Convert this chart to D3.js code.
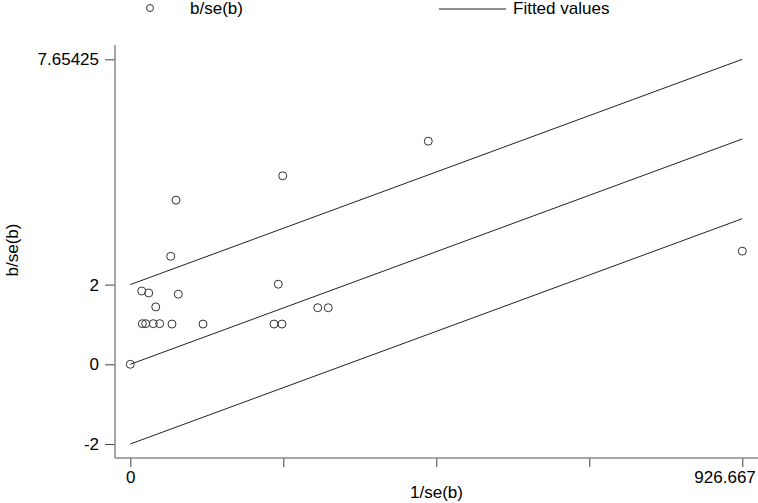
<!DOCTYPE html>
<html><head><meta charset="utf-8">
<script src="https://cdn.jsdelivr.net/npm/d3@7"></script>
<style>body{margin:0;background:#fff}svg{display:block}text{font-family:"Liberation Sans",Arial,sans-serif}</style>
</head><body>
<svg id="c" width="758" height="503"></svg>
<script>
const xVals = [0, 17.3, 18.2, 23.3, 27.9, 34.8, 38.5, 44.5, 61.2, 63.1, 69.2, 72.7, 110.1, 217.6, 224.1, 229.7, 230.8, 283.8, 299.8, 451.2, 926.667];
const yVals = [0, 1.84, 1.02, 1.02, 1.79, 1.02, 1.44, 1.02, 2.71, 1.01, 4.12, 1.76, 1.01, 1.01, 2.01, 1.01, 4.73, 1.42, 1.42, 5.60, 2.84];
const slope = 5.65425 / 926.667;
const offsets = [2, 0, -2];
const xTicks = [0, 231.667, 463.333, 695, 926.667];
const xTickLabels = ["0", "", "", "", "926.667"];
const yTicks = [-2, 0, 2, 7.65425];
const yTickLabels = ["-2", "0", "2", "7.65425"];
const legendLabels = ["b/se(b)", "Fitted values"];
const axisTitles = ["1/se(b)", "b/se(b)"];

(function () {
const svg = d3.select("#c");
const x = d3.scaleLinear().domain([0, 926.667]).range([130.3, 742.3]);
const y = d3.scaleLinear().domain([-2, 7.65425]).range([444, 59.3]);
const pLeft = 115, pRight = 758, pTop = 45, pBottom = 458;

// fitted lines
offsets.forEach(o => {
  svg.append("line")
    .attr("x1", x(0)).attr("y1", y(o))
    .attr("x2", x(926.667)).attr("y2", y(o + slope * 926.667))
    .attr("stroke", "#222").attr("stroke-width", 1);
});

// points
svg.append("g").selectAll("circle").data(xVals).join("circle")
  .attr("cx", (d) => x(d)).attr("cy", (d, i) => y(yVals[i]))
  .attr("r", 4).attr("fill", "none").attr("stroke", "#333").attr("stroke-width", 1);

// axes
const gx = svg.append("g").attr("transform", `translate(0,${pBottom})`)
  .call(d3.axisBottom(x).tickValues(xTicks).tickFormat((d, i) => xTickLabels[i]).tickSize(9).tickPadding(4));
gx.select(".domain").remove();
gx.selectAll(".tick line").attr("stroke", "#444");
gx.selectAll("text").attr("font-size", 17).attr("fill", "#000");
gx.selectAll(".tick").filter((d, i) => i === xTicks.length - 1).select("text")
  .attr("text-anchor", "end").attr("dx", 13);
svg.append("line").attr("x1", pLeft).attr("x2", pRight).attr("y1", pBottom).attr("y2", pBottom)
  .attr("stroke", "#888").attr("stroke-width", 1.5);

const gy = svg.append("g").attr("transform", `translate(${pLeft},0)`)
  .call(d3.axisLeft(y).tickValues(yTicks).tickFormat((d, i) => yTickLabels[i]).tickSize(10).tickPadding(6));
gy.select(".domain").remove();
gy.selectAll(".tick line").attr("stroke", "#444");
gy.selectAll("text").attr("font-size", 17).attr("fill", "#000");
svg.append("line").attr("x1", pLeft).attr("x2", pLeft).attr("y1", pTop).attr("y2", pBottom)
  .attr("stroke", "#888").attr("stroke-width", 1.5);

// axis titles
svg.append("text").attr("x", 436.5).attr("y", 498).attr("text-anchor", "middle")
  .attr("font-size", 17).text(axisTitles[0]);
svg.append("text").attr("transform", "translate(18,250) rotate(-90)").attr("text-anchor", "middle")
  .attr("font-size", 17).text(axisTitles[1]);

// legend
svg.append("circle").attr("cx", 150).attr("cy", 8).attr("r", 3.5).attr("fill", "none").attr("stroke", "#333");
svg.append("text").attr("x", 190).attr("y", 14).attr("font-size", 17).text(legendLabels[0]);
svg.append("line").attr("x1", 439).attr("x2", 506).attr("y1", 9).attr("y2", 9).attr("stroke", "#222");
svg.append("text").attr("x", 513).attr("y", 14).attr("font-size", 17).text(legendLabels[1]);
})();
</script>
</body></html>
